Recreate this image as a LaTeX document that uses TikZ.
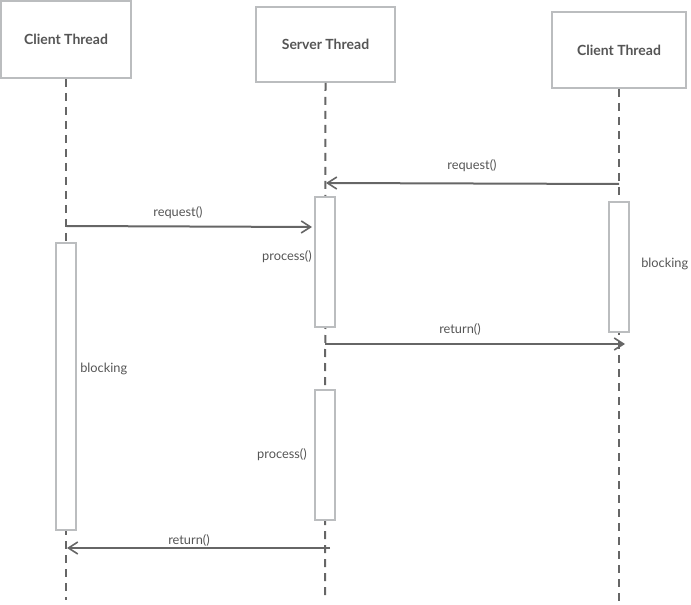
\documentclass[tikz,border=0pt]{standalone}
\usepackage{fontspec}
\setmainfont{Lato}
\usetikzlibrary{arrows.meta}
\definecolor{boxgray}{HTML}{BBBDBF}
\definecolor{linegray}{HTML}{666666}
\definecolor{txtgray}{HTML}{555555}
\begin{document}
\begin{tikzpicture}[x=0.75pt,y=-0.75pt,
  head/.style={draw=boxgray,line width=1.5pt,fill=white,text=txtgray,font=\bfseries\fontsize{10.5}{12}\selectfont,inner sep=0pt},
  act/.style={draw=boxgray,line width=1.5pt,fill=white,minimum width=15pt,inner sep=0pt},
  life/.style={draw=linegray,line width=1.5pt,dash pattern=on 6pt off 4.5pt},
  msg/.style={draw=linegray,line width=1.5pt,-{Straight Barb[length=7pt,width=9pt,line width=1.2pt]}},
  lbl/.style={text=txtgray,font=\fontsize{9.6}{11}\selectfont,inner sep=0pt}]
\useasboundingbox (0,0) rectangle (691,605);
% heads
\node[head,minimum width=97.5pt,minimum height=57.75pt] (h1) at (66,39.5) {Client Thread};
\node[head,minimum width=104.25pt,minimum height=56.25pt] (h2) at (325.5,44.5) {Server Thread};
\node[head,minimum width=100.5pt,minimum height=57pt] (h3) at (619,50) {Client Thread};
% lifeline ends
\coordinate (e1) at (66,600);
\coordinate (e2) at (325,600);
\coordinate (e3) at (619,605);
\draw[life] (h1.south) -- (e1);
\draw[life] (h2.south) -- (e2);
\draw[life] (h3.south) -- (e3);
% activations
\node[act,minimum height=215.25pt] (a1) at (66,386.5) {};
\node[act,minimum height=97.5pt] (a2) at (325,262) {};
\node[act,minimum height=97.5pt] (a3) at (325,455) {};
\node[act,minimum height=97.5pt] (a4) at (619,267) {};
% message points
\coordinate (m1s) at (619,184);
\coordinate (m1e) at (326,183);
\coordinate (m2s) at (66,226);
\coordinate (m2e) at (312,227);
\coordinate (m3s) at (325,344);
\coordinate (m3e) at (625,344);
\coordinate (m4s) at (330,548);
\coordinate (m4e) at (67,548);
\draw[msg] (m1s) -- (m1e);
\draw[msg] (m2s) -- (m2e);
\draw[msg] (m3s) -- (m3e);
\draw[msg] (m4s) -- (m4e);
% labels
\node[lbl] (l1) at (472,166) {request()};
\node[lbl] (l2) at (178,213) {request()};
\node[lbl] (l3) at (460,329) {return()};
\node[lbl] (l4) at (189,540) {return()};
\node[lbl,anchor=east] (l5) at (312,257) {process()};
\node[lbl,anchor=east] (l6) at (307,455) {process()};
\node[lbl,anchor=west] (l7) at (80,369) {blocking};
\node[lbl,anchor=west] (l8) at (641,264) {blocking};
\end{tikzpicture}
\end{document}
